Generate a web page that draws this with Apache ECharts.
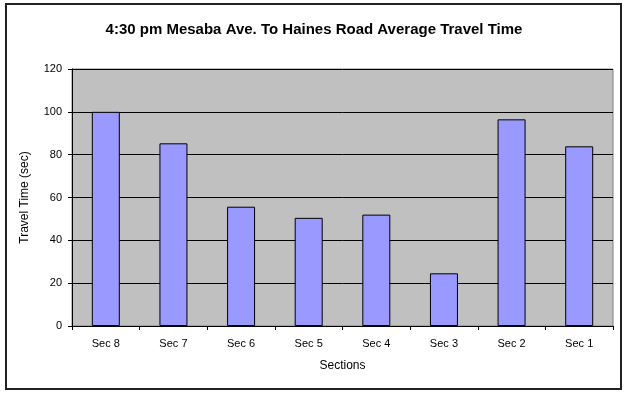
<!DOCTYPE html>
<html><head><meta charset="utf-8">
<script src="https://cdn.jsdelivr.net/npm/echarts@6/dist/echarts.min.js"></script>
<style>html,body{margin:0;padding:0;background:#fff}#c{width:628px;height:394px}</style>
</head><body><div id="c"></div>
<script>
var categories = ['Sec 8','Sec 7','Sec 6','Sec 5','Sec 4','Sec 3','Sec 2','Sec 1'];
var travelTime = [100, 85.3, 55.7, 50.5, 52, 24.6, 96.5, 83.9];
var yTicks = [0, 20, 40, 60, 80, 100, 120];
var chart = echarts.init(document.getElementById('c'));
var font = 'Liberation Sans, Arial, sans-serif';
chart.setOption({
  animation: false,
  backgroundColor: '#fff',
  title: {
    text: '4:30 pm Mesaba Ave. To Haines Road Average Travel Time',
    left: 'center', top: 17,
    textStyle: {fontFamily: font, fontSize: 15, fontWeight: 'bold', color: '#000'}
  },
  graphic: [{
    type: 'rect', shape: {x: 6, y: 4, width: 615, height: 385},
    style: {fill: 'none', stroke: '#222', lineWidth: 2}, silent: true, z: 100
  }],
  grid: {left: 72, right: 15, top: 69, bottom: 68, show: true, backgroundColor: '#C0C0C0', borderColor: '#808080', borderWidth: 1},
  xAxis: {
    type: 'category', data: categories,
    name: 'Sections', nameLocation: 'middle', nameGap: 34,
    nameTextStyle: {fontFamily: font, fontSize: 12, color: '#000'},
    axisLine: {lineStyle: {color: '#000', width: 1}},
    axisTick: {show: true, lineStyle: {color: '#000'}, length: 4},
    axisLabel: {fontFamily: font, fontSize: 11, color: '#000', margin: 12}
  },
  yAxis: {
    type: 'value', min: 0, max: 120, interval: 20,
    name: 'Travel Time (sec)', nameLocation: 'middle', nameGap: 41,
    nameTextStyle: {fontFamily: font, fontSize: 12, color: '#000'},
    axisLine: {show: true, lineStyle: {color: '#000', width: 1}},
    axisTick: {show: true, lineStyle: {color: '#000'}, length: 4},
    axisLabel: {fontFamily: font, fontSize: 11, color: '#000', margin: 10,
      formatter: function(v){ return yTicks.indexOf(v) >= 0 ? String(v) : ''; }},
    splitLine: {show: true, lineStyle: {color: '#000', width: 1}}
  },
  series: [{
    type: 'bar', data: travelTime, barWidth: 28,
    itemStyle: {color: '#9999FF', borderColor: '#000', borderWidth: 1}
  }]
});
</script></body></html>
